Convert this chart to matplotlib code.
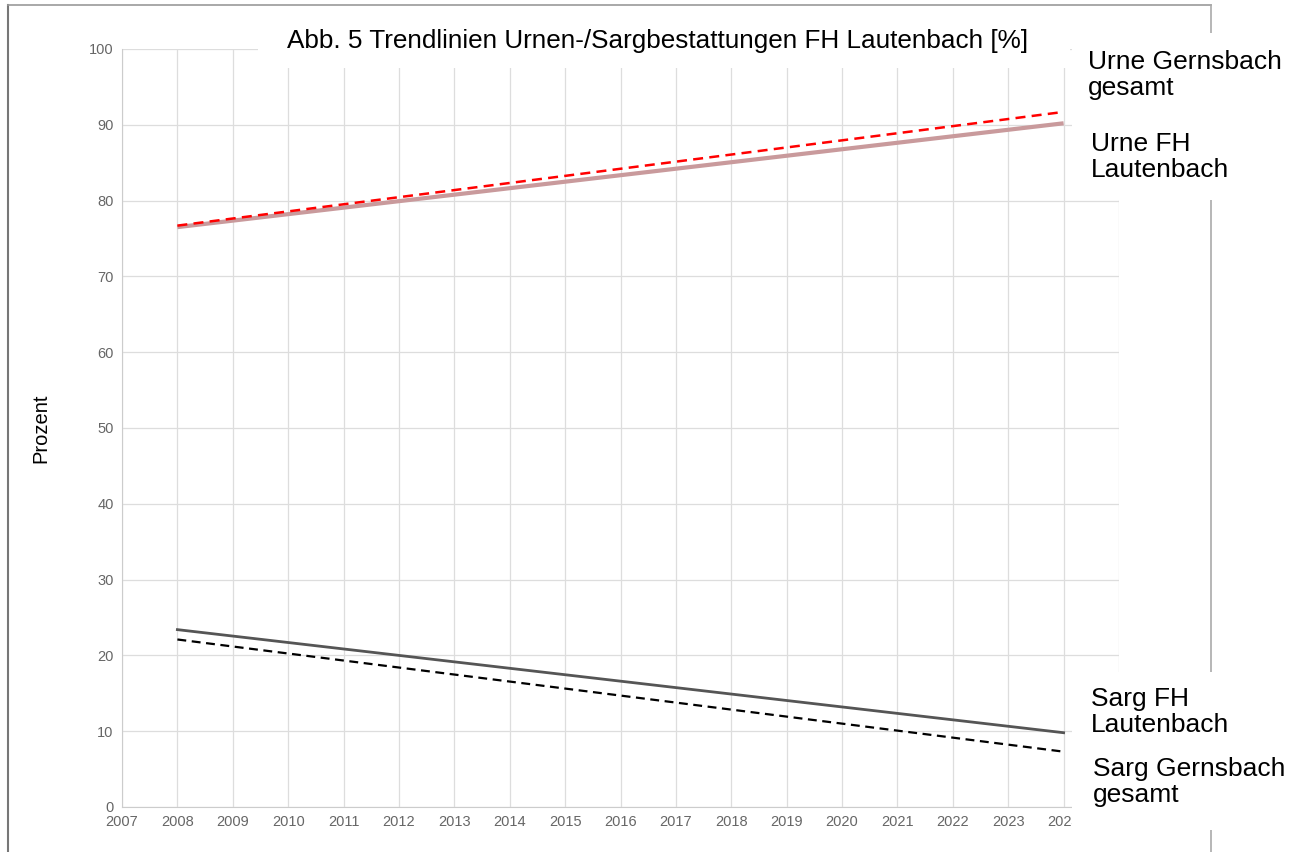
import matplotlib
matplotlib.use("Agg")
import matplotlib.pyplot as plt
from matplotlib.patches import Rectangle
from matplotlib.lines import Line2D

plt.rcParams['font.family'] = ['Liberation Sans', 'DejaVu Sans']

# Data (trend lines, start/end values)
years = [2008, 2024]
urne_fh = [76.5, 90.2]
urne_gesamt = [76.7, 91.7]
sarg_fh = [23.4, 9.8]
sarg_gesamt = [22.1, 7.3]
xticks = list(range(2007, 2025))
yticks = list(range(0, 101, 10))

title = "Abb. 5 Trendlinien Urnen-/Sargbestattungen FH Lautenbach [%]"
W, H = 1305, 852
fig = plt.figure(figsize=(W / 100, H / 100), dpi=100)
ax = fig.add_axes([122 / W, 1 - 807 / H, (1119 - 122) / W, (807 - 49) / H])

ax.plot(years, urne_fh, color='#c99a9c', lw=3.0, solid_capstyle='butt', zorder=3)
ax.plot(years, urne_gesamt, color='#ff0000', lw=1.8, ls=(0, (4, 2.5)), zorder=4)
ax.plot(years, sarg_fh, color='#555555', lw=2.0, zorder=3)
ax.plot(years, sarg_gesamt, color='#000000', lw=1.6, ls=(0, (4, 2.5)), zorder=4)

ax.set_xlim(2007, 2025)
ax.set_ylim(0, 100)
ax.set_xticks(xticks)
ax.set_yticks(yticks)
ax.tick_params(axis='both', length=0, labelsize=10.5, labelcolor='#666666', pad=6)
ax.grid(True, color='#dddddd', lw=0.9)
ax.set_axisbelow(True)
for s in ['top', 'right']:
    ax.spines[s].set_visible(False)
for s in ['left', 'bottom']:
    ax.spines[s].set_color('#cccccc')
ax.set_ylabel("Prozent", fontsize=14.5, color='black', labelpad=0)
ax.yaxis.set_label_coords((50 - 122) / (1119 - 122), 0.5)
ax.axvline(2025, color='#dddddd', lw=0.9, zorder=0)

def fx(x):
    return x / W

def fy(y):
    return 1 - y / H

# outer frame
fig.add_artist(Line2D([fx(8), fx(8)], [fy(5), fy(852)], color='#777777', lw=1.5, zorder=1))
fig.add_artist(Line2D([fx(8), fx(1211)], [fy(5), fy(5)], color='#999999', lw=1.2, zorder=1))
fig.add_artist(Line2D([fx(1211), fx(1211)], [fy(5), fy(852)], color='#aaaaaa', lw=1.2, zorder=1))

# white boxes behind texts
def wbox(x0, y0, x1, y1):
    fig.add_artist(Rectangle((fx(x0), fy(y1)), fx(x1) - fx(x0), fy(y0) - fy(y1),
                             facecolor='white', edgecolor='none', zorder=2))

wbox(258, 12, 1070, 68)
wbox(1072, 33, 1305, 200)
wbox(1072, 672, 1305, 830)

fig.text(fx(658), fy(41), title, fontsize=18.8, ha='center', va='center', zorder=3)
fig.text(fx(1088), fy(75), "Urne Gernsbach\ngesamt", fontsize=19, ha='left', va='center',
         linespacing=1.15, zorder=3)
fig.text(fx(1091), fy(157), "Urne FH\nLautenbach", fontsize=19, ha='left', va='center',
         linespacing=1.15, zorder=3)
fig.text(fx(1091), fy(712), "Sarg FH\nLautenbach", fontsize=19, ha='left', va='center',
         linespacing=1.15, zorder=3)
fig.text(fx(1093), fy(782), "Sarg Gernsbach\ngesamt", fontsize=19, ha='left', va='center',
         linespacing=1.15, zorder=3)

fig.savefig("out.png", dpi=100, facecolor='white')
